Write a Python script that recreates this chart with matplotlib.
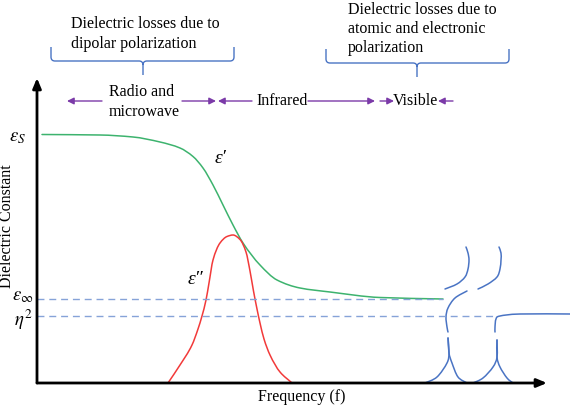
import numpy as np
import matplotlib
matplotlib.use("Agg")
import matplotlib.pyplot as plt
from matplotlib.path import Path
from matplotlib.patches import PathPatch

plt.rcParams['font.family'] = ['Liberation Serif', 'DejaVu Serif']
plt.rcParams['mathtext.fontset'] = 'stix'

# ---------------- data (schematic units) ----------------
eps_s = 248.5
eps_inf = 84
eta2 = 67

# real part eps'
eps1_x = [5, 63, 96, 123, 143, 156, 166, 176, 186, 196, 206, 223, 240, 263, 293, 343, 406]
eps1_y = [248.5, 248, 246, 241, 235, 226.5, 215, 198, 178, 158, 140, 118, 103, 95, 91, 85.5, 84]

# imaginary part eps''
eps2_x = [131, 143, 155, 161, 165, 169, 172, 176, 183, 190, 196, 203, 209, 213, 216.5, 220, 223, 227, 233, 243, 255]
eps2_y = [0, 18, 38, 54, 67, 83, 100, 123, 140, 146.5, 148, 143.5, 131, 112, 92, 74, 60, 44, 28, 11, 0]

# atomic / electronic resonances
resA_x = [429, 431, 432, 431, 428, 420, 408]
resA_y = [136, 130, 123, 114, 106, 99, 94]
resB_x = [462, 464, 464, 463, 460, 451, 441]
resB_y = [136, 130, 123, 114, 106, 99, 94]
resC_up_x = [430, 418, 411, 409, 410, 411]
resC_up_y = [92, 85, 75, 66, 56, 51]
resC_left_x = [411, 412, 410, 400, 388]
resC_left_y = [45, 30, 20, 6, 0]
resC_right_x = [411, 412, 415, 421, 430]
resC_right_y = [45, 30, 20, 6, 0]
resD_up_x = [533, 483, 463, 459, 458, 458]
resD_up_y = [69, 69, 67, 64, 56, 51]
resD_left_x = [460, 460, 456, 446, 436]
resD_left_y = [43, 26, 16, 5, 0]
resD_right_x = [460, 460, 463, 470, 476]
resD_right_y = [43, 26, 16, 5, 0]

dash_inf_end = 406
dash_eta_end = 460

ytick_vals = [eps_s, eps_inf, eta2]
ytick_labels = [r'$\varepsilon_S$', r'$\varepsilon_\infty$', r'$\eta^2$']
ytick_x = [-20, -14, -14]
ytick_dy = [-3.5, 2, -4]

region_labels = ['Radio and\nmicrowave', 'Infrared', 'Visible']
brace_texts = ['Dielectric losses due to\ndipolar polarization',
               'Dielectric losses due to\natomic and electronic\npolarization']

GREEN = '#3DB36E'
RED = '#F23A3A'
BLUE = '#4A74C4'
DASH = '#86A3D8'
PURPLE = '#7B3AA8'
FS = 11.5


def smooth(xs, ys):
    """Catmull-Rom rendering for parametric curves."""
    pts = np.column_stack([xs, ys]).astype(float)
    verts = [pts[0]]
    codes = [Path.MOVETO]
    n = len(pts)
    for i in range(n - 1):
        p0 = pts[i - 1] if i > 0 else pts[i]
        p1 = pts[i]
        p2 = pts[i + 1]
        p3 = pts[i + 2] if i + 2 < n else pts[i + 1]
        verts += [p1 + (p2 - p0) / 6.0, p2 - (p3 - p1) / 6.0, p2]
        codes += [Path.CURVE4] * 3
    return Path(verts, codes)


def pchip_path(xs, ys):
    """Monotone cubic rendering for curves that are functions of x."""
    x = np.asarray(xs, float)
    y = np.asarray(ys, float)
    h = np.diff(x)
    d = np.diff(y) / h
    n = len(x)
    m = np.zeros(n)
    m[0], m[-1] = d[0], d[-1]
    for k in range(1, n - 1):
        if d[k - 1] * d[k] > 0:
            w1 = 2 * h[k] + h[k - 1]
            w2 = h[k] + 2 * h[k - 1]
            m[k] = (w1 + w2) / (w1 / d[k - 1] + w2 / d[k])
    verts = [(x[0], y[0])]
    codes = [Path.MOVETO]
    for k in range(n - 1):
        verts += [(x[k] + h[k] / 3, y[k] + m[k] * h[k] / 3),
                  (x[k + 1] - h[k] / 3, y[k + 1] - m[k + 1] * h[k] / 3),
                  (x[k + 1], y[k + 1])]
        codes += [Path.CURVE4] * 3
    return Path(verts, codes)


def draw_path(ax, path, color, lw=1.1):
    ax.add_patch(PathPatch(path, fill=False, edgecolor=color,
                           lw=lw, clip_on=False, capstyle='round'))


def brace(ax, x0, x1, xc, ytop, yh, ytip, r=4, color=BLUE):
    verts = [(x0, ytop), (x0, yh + r), (x0, yh), (x0 + r, yh),
             (xc - r, yh), (xc, yh), (xc, yh - r), (xc, ytip),
             (xc, yh - r), (xc, yh), (xc + r, yh),
             (x1 - r, yh), (x1, yh), (x1, yh + r), (x1, ytop)]
    codes = [Path.MOVETO, Path.LINETO, Path.CURVE3, Path.CURVE3,
             Path.LINETO, Path.CURVE3, Path.CURVE3, Path.LINETO,
             Path.MOVETO, Path.CURVE3, Path.CURVE3,
             Path.LINETO, Path.CURVE3, Path.CURVE3, Path.LINETO]
    ax.add_patch(PathPatch(Path(verts, codes), fill=False, edgecolor=color,
                           lw=1.0, clip_on=False))


def arrow(ax, x_from, x_to, y):
    ax.annotate('', xy=(x_to, y), xytext=(x_from, y), annotation_clip=False,
                arrowprops=dict(arrowstyle='-|>,head_length=0.5,head_width=0.25',
                                color=PURPLE, lw=1.0, shrinkA=0, shrinkB=0,
                                mutation_scale=8))


fig = plt.figure(figsize=(5.7, 4.07), dpi=100)
ax = fig.add_axes([37 / 570, 24 / 407, 510 / 570, 305 / 407])
ax.set_xlim(0, 510)
ax.set_ylim(0, 305)
ax.axis('off')

# axes with arrows
for xy in [(0, 305), (510, 0)]:
    ax.annotate('', xy=xy, xytext=(0, 0), annotation_clip=False,
                arrowprops=dict(arrowstyle='-|>,head_length=0.6,head_width=0.25',
                                color='black', lw=2.0, shrinkA=0, shrinkB=0,
                                mutation_scale=10))

# dashed reference levels
ax.plot([0, dash_inf_end], [eps_inf, eps_inf], color=DASH, lw=1.0,
        dashes=(5, 3.5), clip_on=False)
ax.plot([0, dash_eta_end], [eta2, eta2], color=DASH, lw=1.0,
        dashes=(5, 3.5), clip_on=False)

# curves
draw_path(ax, pchip_path(eps1_x, eps1_y), GREEN)
draw_path(ax, pchip_path(eps2_x, eps2_y), RED)
for xs, ys in [(resA_x, resA_y), (resB_x, resB_y), (resC_up_x, resC_up_y),
               (resC_left_x, resC_left_y), (resC_right_x, resC_right_y),
               (resD_up_x, resD_up_y), (resD_left_x, resD_left_y),
               (resD_right_x, resD_right_y)]:
    draw_path(ax, smooth(xs, ys), BLUE)

# curve labels
ax.text(184, 224, "ε\u2032", fontsize=14, style='italic', ha='center', va='center',
        family=['Liberation Serif', 'DejaVu Serif'])
ax.text(158, 103, "ε\u2033", fontsize=14, style='italic', ha='center', va='center',
        family=['Liberation Serif', 'DejaVu Serif'])

# y tick labels
for v, lab, x, dy in zip(ytick_vals, ytick_labels, ytick_x, ytick_dy):
    ax.text(x, v + dy, lab, fontsize=13.5, ha='center', va='center', clip_on=False)

ax.text(-30, 157, 'Dielectric Constant', rotation=90, fontsize=FS,
        ha='center', va='center')
ax.text(265, -14, 'Frequency (f)', fontsize=FS, ha='center', va='center')

# region labels + arrows
ax.text(72, 281, region_labels[0], fontsize=FS, ha='left', va='center',
        linespacing=1.3)
ax.text(245.5, 282, region_labels[1], fontsize=FS, ha='center', va='center')
ax.text(378, 282, region_labels[2], fontsize=FS, ha='center', va='center')
arrow(ax, 65, 30, 282)
arrow(ax, 145, 179, 282)
arrow(ax, 215, 181, 282)
arrow(ax, 271, 338, 282)
arrow(ax, 343, 357, 282)
arrow(ax, 416, 401, 282)

# braces + their texts
brace(ax, 14, 197, 106, 336, 322, 308)
brace(ax, 289, 472, 380, 334, 320, 306)
ax.text(34, 349, brace_texts[0], fontsize=FS, ha='left', va='center',
        linespacing=1.3)
ax.text(311, 354, brace_texts[1], fontsize=FS, ha='left', va='center',
        linespacing=1.25)

fig.savefig('out.png', dpi=100)
